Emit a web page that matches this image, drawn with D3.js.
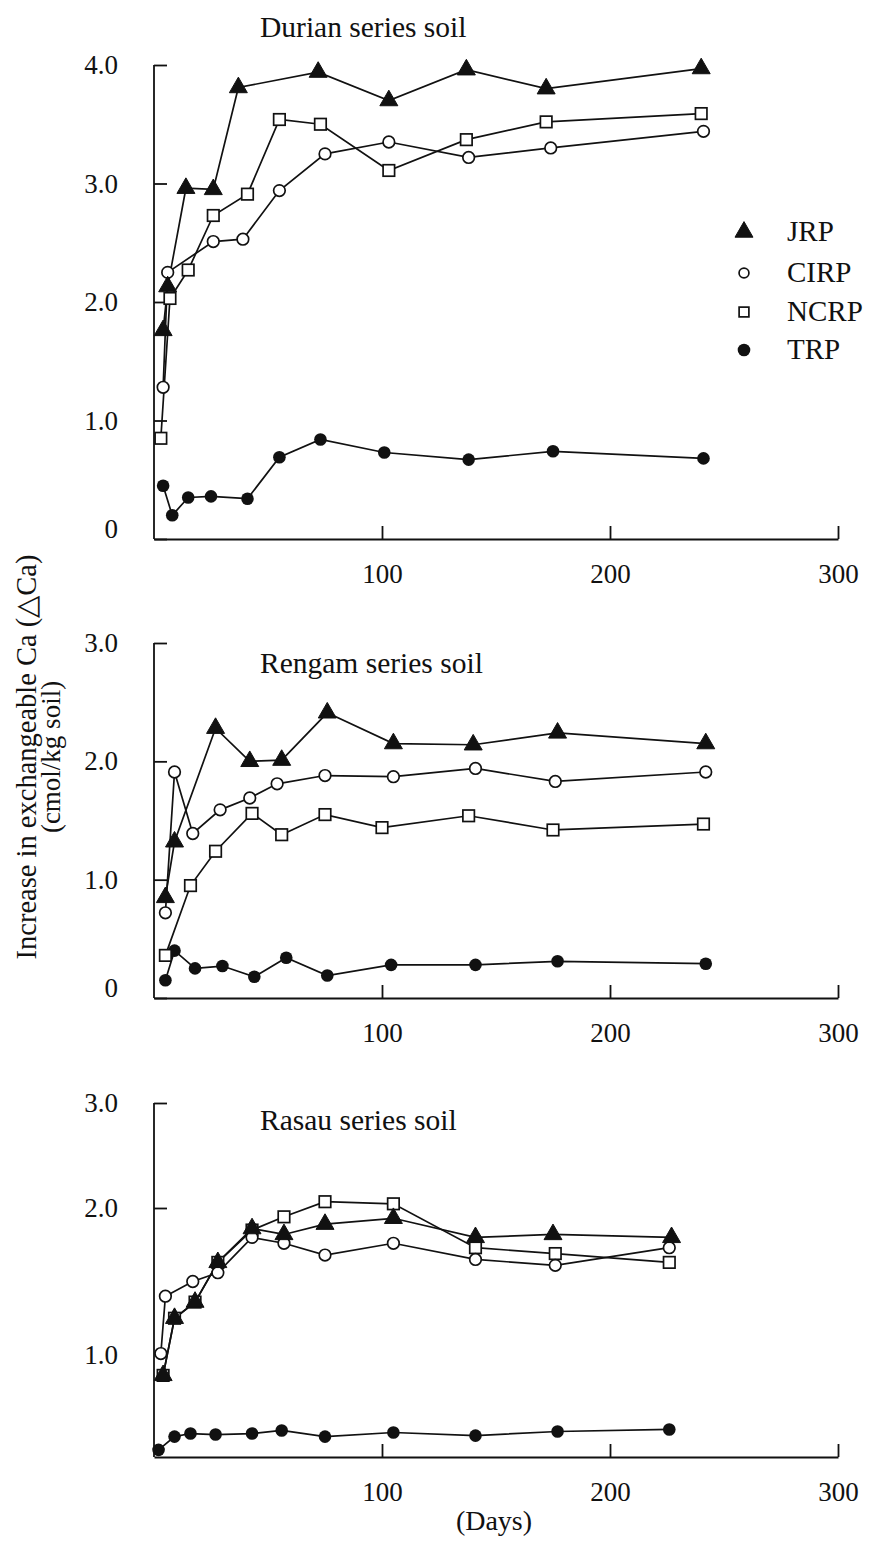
<!DOCTYPE html>
<html>
<head>
<meta charset="utf-8">
<script src="https://cdn.jsdelivr.net/npm/d3@7"></script>
<style>
  body { margin: 0; background: #fff; }
  svg text { font-family: "Liberation Serif", "Times New Roman", serif; fill: #111; }
</style>
</head>
<body>
<svg id="chart" width="871" height="1546"></svg>
<script>
// Treatments (legend order)
const treatments = ["JRP", "CIRP", "NCRP", "TRP"];
// markers are stacked so the filled triangles end up on top
const markerOrder = ["TRP", "NCRP", "CIRP", "JRP"];
const xTicks = [100, 200, 300];

// Durian series soil: days after incubation and increase in exchangeable Ca (cmol/kg soil)
const durianJRPDays  = [4, 6, 14, 26, 37, 72, 103, 137, 172, 240];
const durianJRP      = [1.76, 2.13, 2.96, 2.95, 3.81, 3.94, 3.70, 3.96, 3.80, 3.97];
const durianCIRPDays = [4, 6, 26, 39, 55, 75, 103, 138, 174, 241];
const durianCIRP     = [1.28, 2.25, 2.51, 2.53, 2.94, 3.25, 3.35, 3.22, 3.30, 3.44];
const durianNCRPDays = [3, 7, 15, 26, 41, 55, 73, 103, 137, 172, 240];
const durianNCRP     = [0.85, 2.03, 2.27, 2.73, 2.91, 3.54, 3.50, 3.11, 3.37, 3.52, 3.59];
const durianTRPDays  = [4, 8, 15, 25, 41, 55, 73, 101, 138, 175, 241];
const durianTRP      = [0.45, 0.20, 0.35, 0.36, 0.34, 0.69, 0.84, 0.73, 0.67, 0.74, 0.68];

// Rengam series soil
const rengamJRPDays  = [5, 9, 27, 42, 56, 76, 105, 140, 177, 242];
const rengamJRP      = [0.85, 1.32, 2.28, 2.00, 2.01, 2.41, 2.15, 2.14, 2.24, 2.15];
const rengamCIRPDays = [5, 9, 17, 29, 42, 54, 75, 105, 141, 176, 242];
const rengamCIRP     = [0.72, 1.91, 1.39, 1.59, 1.69, 1.81, 1.88, 1.87, 1.94, 1.83, 1.91];
const rengamNCRPDays = [5, 16, 27, 43, 56, 75, 100, 138, 175, 241];
const rengamNCRP     = [0.36, 0.95, 1.24, 1.56, 1.38, 1.55, 1.44, 1.54, 1.42, 1.47];
const rengamTRPDays  = [5, 9, 18, 30, 44, 58, 76, 104, 141, 177, 242];
const rengamTRP      = [0.15, 0.40, 0.25, 0.27, 0.18, 0.34, 0.19, 0.28, 0.28, 0.31, 0.29];

// Rasau series soil
const rasauJRPDays  = [4, 9, 18, 28, 43, 57, 75, 105, 141, 175, 227];
const rasauJRP      = [0.80, 1.25, 1.36, 1.63, 1.86, 1.82, 1.89, 1.93, 1.80, 1.82, 1.80];
const rasauCIRPDays = [3, 5, 17, 28, 43, 57, 75, 105, 141, 176, 226];
const rasauCIRP     = [1.01, 1.40, 1.50, 1.56, 1.80, 1.76, 1.68, 1.76, 1.65, 1.61, 1.73];
const rasauNCRPDays = [4, 9, 18, 28, 43, 57, 75, 105, 141, 176, 226];
const rasauNCRP     = [0.80, 1.25, 1.36, 1.63, 1.85, 1.94, 2.06, 2.04, 1.73, 1.69, 1.63];
const rasauTRPDays  = [2, 9, 16, 27, 43, 56, 75, 105, 141, 177, 226];
const rasauTRP      = [0.07, 0.20, 0.23, 0.22, 0.23, 0.26, 0.20, 0.24, 0.21, 0.25, 0.27];

const svg = d3.select("#chart");
const FONT = 27;

const x = d3.scaleLinear().domain([0, 300]).range([154, 838]);

const panels = [
  {
    title: "Durian series soil", titleY: 37,
    y: d3.scaleLinear().domain([0, 4]).range([539, 65]),
    yTicks: [0, 1, 2, 3, 4], hiddenTickLines: [],
    series: {
      JRP:  [durianJRPDays, durianJRP],
      CIRP: [durianCIRPDays, durianCIRP],
      NCRP: [durianNCRPDays, durianNCRP],
      TRP:  [durianTRPDays, durianTRP]
    }
  },
  {
    title: "Rengam series soil", titleY: 673,
    y: d3.scaleLinear().domain([0, 3]).range([998, 643]),
    yTicks: [0, 1, 2, 3], hiddenTickLines: [],
    series: {
      JRP:  [rengamJRPDays, rengamJRP],
      CIRP: [rengamCIRPDays, rengamCIRP],
      NCRP: [rengamNCRPDays, rengamNCRP],
      TRP:  [rengamTRPDays, rengamTRP]
    }
  },
  {
    title: "Rasau series soil", titleY: 1130,
    // the printed axis is not evenly spaced between its labels
    y: d3.scaleLinear().domain([0, 1, 2, 3]).range([1457, 1355, 1208, 1103]),
    yTicks: [1, 2, 3], hiddenTickLines: [1],
    series: {
      JRP:  [rasauJRPDays, rasauJRP],
      CIRP: [rasauCIRPDays, rasauCIRP],
      NCRP: [rasauNCRPDays, rasauNCRP],
      TRP:  [rasauTRPDays, rasauTRP]
    }
  }
];

// marker drawing per treatment
function drawMarker(g, name, cx, cy, scale = 1) {
  if (name === "JRP") {
    g.append("path")
      .attr("d", d3.symbol(d3.symbolTriangle, 140 * scale * scale)())
      .attr("transform", `translate(${cx},${cy})`)
      .attr("fill", "#111").attr("stroke", "#111").attr("stroke-width", 1);
  } else if (name === "CIRP") {
    g.append("circle").attr("cx", cx).attr("cy", cy).attr("r", 5.8 * scale)
      .attr("fill", "#fff").attr("stroke", "#111").attr("stroke-width", 1.7);
  } else if (name === "NCRP") {
    const s = 11.5 * scale;
    g.append("rect").attr("x", cx - s / 2).attr("y", cy - s / 2).attr("width", s).attr("height", s)
      .attr("fill", "#fff").attr("stroke", "#111").attr("stroke-width", 1.7);
  } else {
    g.append("circle").attr("cx", cx).attr("cy", cy).attr("r", 6.3 * scale)
      .attr("fill", "#111");
  }
}

panels.forEach(p => {
  const g = svg.append("g");
  const y = p.y;

  // y axis: inward ticks, labels on the left
  const yAxis = d3.axisLeft(y)
    .tickValues(p.yTicks)
    .tickSize(-13).tickSizeOuter(0).tickPadding(36)
    .tickFormat(d => d === 0 ? "0" : d.toFixed(1));
  const gy = g.append("g").attr("transform", `translate(${x(0)},0)`).call(yAxis);
  gy.select(".domain").attr("d", `M0,${y.range()[0]}V${y.range()[y.range().length - 1]}`);
  gy.selectAll("path, line").attr("stroke", "#111").attr("stroke-width", 1.8);
  gy.selectAll("text").attr("font-size", FONT).attr("font-family", "Liberation Serif").attr("fill", "#111");
  gy.selectAll(".tick").filter(d => d === 0).select("text").attr("y", -10);
  gy.selectAll(".tick").filter(d => p.hiddenTickLines.includes(d)).select("line").remove();

  // x axis: inward ticks
  const xAxis = d3.axisBottom(x)
    .tickValues(xTicks)
    .tickSize(-13).tickSizeOuter(0).tickPadding(25)
    .tickFormat(d3.format("d"));
  const gx = g.append("g").attr("transform", `translate(0,${y(0)})`).call(xAxis);
  gx.selectAll("path, line").attr("stroke", "#111").attr("stroke-width", 1.8);
  gx.selectAll("text").attr("font-size", FONT).attr("font-family", "Liberation Serif").attr("fill", "#111");

  // panel title
  g.append("text").attr("x", 260).attr("y", p.titleY).attr("font-size", 29.5).text(p.title);

  const line = d3.line().x(d => x(d[0])).y(d => y(d[1]));

  // connecting lines first, markers on top
  treatments.forEach(name => {
    const [days, vals] = p.series[name];
    const pts = days.map((d, i) => [d, vals[i]]);
    g.append("path").datum(pts).attr("d", line)
      .attr("fill", "none").attr("stroke", "#111").attr("stroke-width", 1.7);
  });
  markerOrder.forEach(name => {
    const [days, vals] = p.series[name];
    const mg = g.append("g");
    days.forEach((d, i) => drawMarker(mg, name, x(d), y(vals[i])));
  });
});

// legend
const legendY = [232, 273, 312, 350];
const lg = svg.append("g");
treatments.forEach((name, i) => {
  drawMarker(lg, name, 744, legendY[i], name === "JRP" ? 1.0 : (name === "TRP" ? 1 : 0.85));
  lg.append("text").attr("x", 787).attr("y", legendY[i] + 9).attr("font-size", 29).text(name);
});

// shared axis titles
svg.append("text")
  .attr("transform", "translate(36,757) rotate(-90)")
  .attr("text-anchor", "middle").attr("font-size", 28.5)
  .text("Increase in exchangeable Ca (\u25B3Ca)");
svg.append("text")
  .attr("transform", "translate(60,757) rotate(-90)")
  .attr("text-anchor", "middle").attr("font-size", FONT)
  .text("(cmol/kg soil)");
svg.append("text")
  .attr("x", 494).attr("y", 1530)
  .attr("text-anchor", "middle").attr("font-size", 28)
  .text("(Days)");
</script>
</body>
</html>
